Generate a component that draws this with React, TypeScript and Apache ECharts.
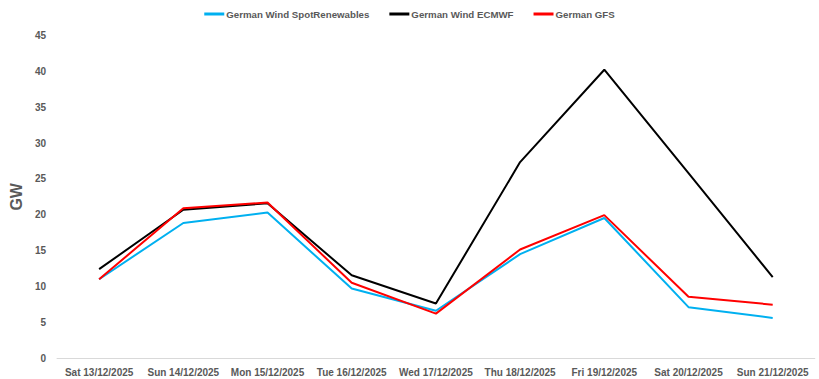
import React, { useEffect, useRef } from "react";
import * as echarts from "echarts";

const categories = [
  "Sat 13/12/2025",
  "Sun 14/12/2025",
  "Mon 15/12/2025",
  "Tue 16/12/2025",
  "Wed 17/12/2025",
  "Thu 18/12/2025",
  "Fri 19/12/2025",
  "Sat 20/12/2025",
  "Sun 21/12/2025",
];
const spotRenewables = [11.0, 18.85, 20.3, 9.7, 6.6, 14.5, 19.55, 7.1, 5.6];
const ecmwf = [12.4, 20.7, 21.6, 11.55, 7.6, 27.35, 40.25, 25.8, 11.3];
const gfs = [11.0, 20.9, 21.7, 10.5, 6.2, 15.15, 19.95, 8.55, 7.45];

const FONT = "'Liberation Sans', Arial, sans-serif";
const GRAY = "#595959";

export default function App() {
  const ref = useRef<HTMLDivElement>(null);
  useEffect(() => {
    if (!ref.current) return;
    const chart = echarts.init(ref.current, undefined, { renderer: "svg" });
    const mk = (name: string, data: number[], color: string) => ({
      name,
      type: "line",
      data,
      symbol: "none",
      lineStyle: { color, width: 2 },
      itemStyle: { color },
    });
    chart.setOption({
      animation: false,
      backgroundColor: "#ffffff",
      textStyle: { fontFamily: FONT },
      legend: {
        top: 4,
        left: "center",
        itemWidth: 20,
        itemHeight: 3,
        itemGap: 20,
        icon: "rect",
        textStyle: { fontSize: 9.7, fontWeight: "bold", color: GRAY, fontFamily: FONT, padding: [0, 0, 0, -3] },
        data: ["German Wind SpotRenewables", "German Wind ECMWF", "German GFS"],
      },
      grid: { left: 53.4, right: 4.2, top: 35.7, bottom: 21 },
      xAxis: {
        type: "category",
        data: categories,
        boundaryGap: true,
        axisLine: { lineStyle: { color: "#d9d9d9", width: 1 } },
        axisTick: { show: false },
        axisLabel: { fontSize: 10, fontWeight: "bold", color: GRAY, margin: 9, fontFamily: FONT, interval: 0 },
      },
      yAxis: {
        type: "value",
        min: 0,
        max: 45,
        interval: 5,
        name: "GW",
        nameLocation: "middle",
        nameGap: 28,
        nameRotate: 90,
        nameTextStyle: { fontSize: 16, fontWeight: "bold", color: GRAY, fontFamily: FONT },
        axisLine: { show: false },
        axisTick: { show: false },
        splitLine: { show: false },
        axisLabel: { fontSize: 10, fontWeight: "bold", color: GRAY, margin: 11, fontFamily: FONT },
      },
      series: [
        mk("German Wind SpotRenewables", spotRenewables, "#00B0F0"),
        mk("German Wind ECMWF", ecmwf, "#000000"),
        mk("German GFS", gfs, "#FF0000"),
      ],
    });
    return () => chart.dispose();
  }, []);
  return <div ref={ref} style={{ width: 819, height: 379, position: "absolute", left: 0, top: 0 }} />;
}
